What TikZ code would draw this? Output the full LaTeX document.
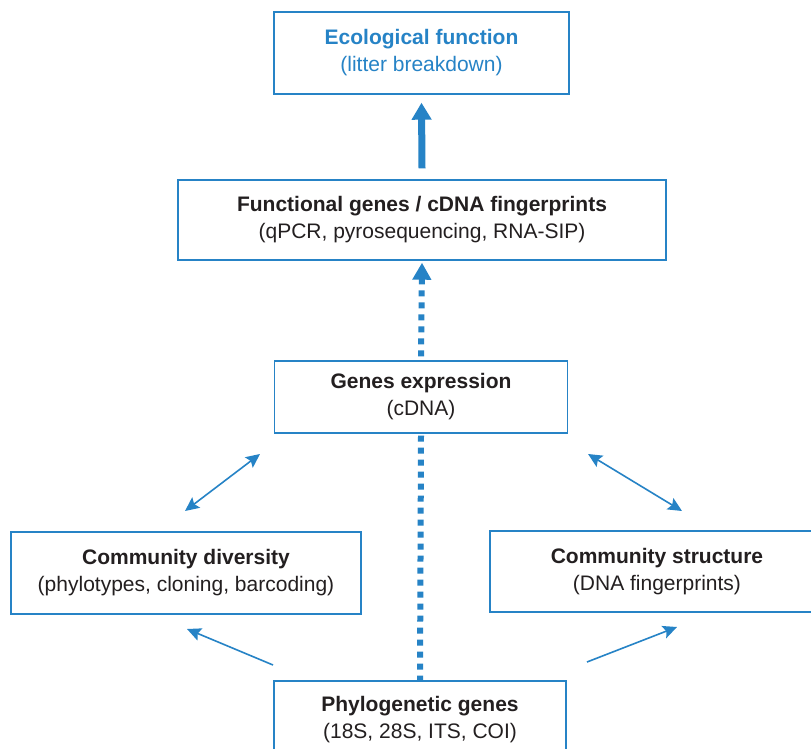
\documentclass[tikz,border=0pt]{standalone}
\usepackage{fontspec}
\setmainfont{Liberation Sans}
\usetikzlibrary{arrows.meta}
\definecolor{diagblue}{RGB}{38,131,198}
\definecolor{diagtext}{RGB}{35,31,32}
\tikzset{
  box/.style={draw=diagblue, line width=1.4pt, fill=white, align=center, inner sep=0pt,
    font=\fontsize{21}{27}\selectfont, text=diagtext},
  link/.style={draw=diagblue, line width=1.6pt, {Stealth[length=14pt,width=13pt,inset=2.5pt]}-{Stealth[length=14pt,width=13pt,inset=2.5pt]}},
  onelink/.style={draw=diagblue, line width=1.6pt, -{Stealth[length=14pt,width=13pt,inset=2.5pt]}},
  dotlink/.style={draw=diagblue, line width=6pt, dash pattern=on 6pt off 6pt},
}
\begin{document}
\begin{tikzpicture}[x=1pt,y=-1pt]
  \clip (0,0) rectangle (811,749);
  \fill[white] (0,0) rectangle (811,749);
  % boxes
  \node[box, minimum width=295pt, minimum height=82pt, text=diagblue] (eco) at (421.5,53)
    {\textbf{Ecological function}\\(litter breakdown)};
  \node[box, minimum width=488pt, minimum height=80pt] (func) at (422,220)
    {\textbf{Functional genes / cDNA fingerprints}\\(qPCR, pyrosequencing, RNA-SIP)};
  \node[box, minimum width=293pt, minimum height=72pt] (expr) at (421,397)
    {\textbf{Genes expression}\\(cDNA)};
  \node[box, minimum width=350pt, minimum height=82pt] (div) at (186,573)
    {\textbf{Community diversity}\\(phylotypes, cloning, barcoding)};
  \node[box, minimum width=334pt, minimum height=81pt] (struct) at (657,571.5)
    {\textbf{Community structure}\\(DNA fingerprints)};
  \node[box, minimum width=292pt, minimum height=78pt] (phylo) at (420,720)
    {\textbf{Phylogenetic genes}\\(18S, 28S, ITS, COI)};
  % arrow ends
  \coordinate (divUp) at (185,511);
  \coordinate (exprLeft) at (260,454);
  \coordinate (exprRight) at (588,454);
  \coordinate (structUp) at (682,511);
  \coordinate (phyloLeft) at (273,665);
  \coordinate (divDown) at (187,629);
  \coordinate (phyloRight) at (587,662);
  \coordinate (structDown) at (677,627);
  % connectors
  \draw[draw=diagblue, line width=7pt, -{Triangle[length=17pt,width=19pt]}]
    ([yshift=11pt]func.north) -- ([yshift=-8pt]eco.south);
  \draw[dotlink, -{Triangle[length=17pt,width=18pt]}]
    ([yshift=4pt]expr.north) -- ([yshift=-2pt]func.south);
  \draw[dotlink] ([yshift=-2pt]expr.south) -- (phylo.north);
  \draw[link] (divUp) -- (exprLeft);
  \draw[link] (exprRight) -- (structUp);
  \draw[onelink] (phyloLeft) -- (divDown);
  \draw[onelink] (phyloRight) -- (structDown);
\end{tikzpicture}
\end{document}
